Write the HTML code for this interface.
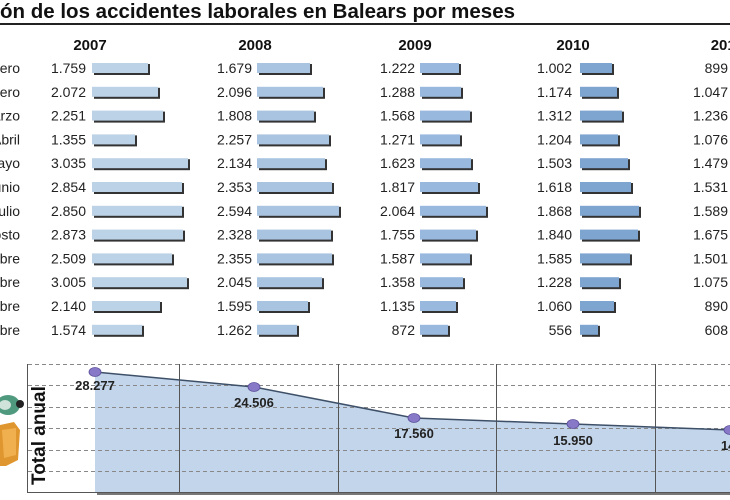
<!DOCTYPE html>
<html><head><meta charset="utf-8"><style>
html,body{margin:0;padding:0;background:#fff;width:730px;height:500px;overflow:hidden}
svg{display:block}
.t{font-family:"Liberation Sans",sans-serif;font-weight:bold;font-size:20.5px;fill:#111}
.y{font-family:"Liberation Sans",sans-serif;font-weight:bold;font-size:15px;fill:#111;text-anchor:middle}
.n,.m{font-family:"Liberation Sans",sans-serif;font-size:14px;fill:#222;text-anchor:end}
.v{font-family:"Liberation Sans",sans-serif;font-weight:bold;font-size:13px;fill:#222;text-anchor:middle}
.s{fill:#333}
.a{fill:#bcd2e6}.b{fill:#a9c4e0}.c{fill:#98b8de}.d{fill:#7ea4d0}
</style></head><body>
<svg width="730" height="500" viewBox="0 0 730 500">
<text class="t" x="515" y="18" text-anchor="end">Evolución de los accidentes laborales en Balears por meses</text>
<rect x="0" y="23" width="730" height="2" fill="#222"/>
<text class="y" x="90" y="50">2007</text><text class="y" x="255" y="50">2008</text><text class="y" x="415" y="50">2009</text><text class="y" x="573" y="50">2010</text><text class="y" x="727" y="50">2011</text>

<g transform="translate(0,68)"><text class="m" x="20" y="5">Enero</text><text class="n" x="86" y="5">1.759</text><rect class="s" x="94" y="-4" width="56" height="11"/><rect class="a" x="92" y="-5" width="56" height="10"/><text class="n" x="252" y="5">1.679</text><rect class="s" x="259" y="-4" width="53" height="11"/><rect class="b" x="257" y="-5" width="53" height="10"/><text class="n" x="415" y="5">1.222</text><rect class="s" x="422" y="-4" width="39" height="11"/><rect class="c" x="420" y="-5" width="39" height="10"/><text class="n" x="572" y="5">1.002</text><rect class="s" x="582" y="-4" width="32" height="11"/><rect class="d" x="580" y="-5" width="32" height="10"/><text class="n" x="728" y="5">899</text></g>
<g transform="translate(0,91.8)"><text class="m" x="20" y="5">Febrero</text><text class="n" x="86" y="5">2.072</text><rect class="s" x="94" y="-4" width="66" height="11"/><rect class="a" x="92" y="-5" width="66" height="10"/><text class="n" x="252" y="5">2.096</text><rect class="s" x="259" y="-4" width="66" height="11"/><rect class="b" x="257" y="-5" width="66" height="10"/><text class="n" x="415" y="5">1.288</text><rect class="s" x="422" y="-4" width="41" height="11"/><rect class="c" x="420" y="-5" width="41" height="10"/><text class="n" x="572" y="5">1.174</text><rect class="s" x="582" y="-4" width="37" height="11"/><rect class="d" x="580" y="-5" width="37" height="10"/><text class="n" x="728" y="5">1.047</text></g>
<g transform="translate(0,115.6)"><text class="m" x="20" y="5">Marzo</text><text class="n" x="86" y="5">2.251</text><rect class="s" x="94" y="-4" width="71" height="11"/><rect class="a" x="92" y="-5" width="71" height="10"/><text class="n" x="252" y="5">1.808</text><rect class="s" x="259" y="-4" width="57" height="11"/><rect class="b" x="257" y="-5" width="57" height="10"/><text class="n" x="415" y="5">1.568</text><rect class="s" x="422" y="-4" width="50" height="11"/><rect class="c" x="420" y="-5" width="50" height="10"/><text class="n" x="572" y="5">1.312</text><rect class="s" x="582" y="-4" width="42" height="11"/><rect class="d" x="580" y="-5" width="42" height="10"/><text class="n" x="728" y="5">1.236</text></g>
<g transform="translate(0,139.4)"><text class="m" x="20" y="5">Abril</text><text class="n" x="86" y="5">1.355</text><rect class="s" x="94" y="-4" width="43" height="11"/><rect class="a" x="92" y="-5" width="43" height="10"/><text class="n" x="252" y="5">2.257</text><rect class="s" x="259" y="-4" width="72" height="11"/><rect class="b" x="257" y="-5" width="72" height="10"/><text class="n" x="415" y="5">1.271</text><rect class="s" x="422" y="-4" width="40" height="11"/><rect class="c" x="420" y="-5" width="40" height="10"/><text class="n" x="572" y="5">1.204</text><rect class="s" x="582" y="-4" width="38" height="11"/><rect class="d" x="580" y="-5" width="38" height="10"/><text class="n" x="728" y="5">1.076</text></g>
<g transform="translate(0,163.2)"><text class="m" x="20" y="5">Mayo</text><text class="n" x="86" y="5">3.035</text><rect class="s" x="94" y="-4" width="96" height="11"/><rect class="a" x="92" y="-5" width="96" height="10"/><text class="n" x="252" y="5">2.134</text><rect class="s" x="259" y="-4" width="68" height="11"/><rect class="b" x="257" y="-5" width="68" height="10"/><text class="n" x="415" y="5">1.623</text><rect class="s" x="422" y="-4" width="51" height="11"/><rect class="c" x="420" y="-5" width="51" height="10"/><text class="n" x="572" y="5">1.503</text><rect class="s" x="582" y="-4" width="48" height="11"/><rect class="d" x="580" y="-5" width="48" height="10"/><text class="n" x="728" y="5">1.479</text></g>
<g transform="translate(0,187)"><text class="m" x="20" y="5">Junio</text><text class="n" x="86" y="5">2.854</text><rect class="s" x="94" y="-4" width="90" height="11"/><rect class="a" x="92" y="-5" width="90" height="10"/><text class="n" x="252" y="5">2.353</text><rect class="s" x="259" y="-4" width="75" height="11"/><rect class="b" x="257" y="-5" width="75" height="10"/><text class="n" x="415" y="5">1.817</text><rect class="s" x="422" y="-4" width="58" height="11"/><rect class="c" x="420" y="-5" width="58" height="10"/><text class="n" x="572" y="5">1.618</text><rect class="s" x="582" y="-4" width="51" height="11"/><rect class="d" x="580" y="-5" width="51" height="10"/><text class="n" x="728" y="5">1.531</text></g>
<g transform="translate(0,210.8)"><text class="m" x="20" y="5">Julio</text><text class="n" x="86" y="5">2.850</text><rect class="s" x="94" y="-4" width="90" height="11"/><rect class="a" x="92" y="-5" width="90" height="10"/><text class="n" x="252" y="5">2.594</text><rect class="s" x="259" y="-4" width="82" height="11"/><rect class="b" x="257" y="-5" width="82" height="10"/><text class="n" x="415" y="5">2.064</text><rect class="s" x="422" y="-4" width="66" height="11"/><rect class="c" x="420" y="-5" width="66" height="10"/><text class="n" x="572" y="5">1.868</text><rect class="s" x="582" y="-4" width="59" height="11"/><rect class="d" x="580" y="-5" width="59" height="10"/><text class="n" x="728" y="5">1.589</text></g>
<g transform="translate(0,234.6)"><text class="m" x="20" y="5">Agosto</text><text class="n" x="86" y="5">2.873</text><rect class="s" x="94" y="-4" width="91" height="11"/><rect class="a" x="92" y="-5" width="91" height="10"/><text class="n" x="252" y="5">2.328</text><rect class="s" x="259" y="-4" width="74" height="11"/><rect class="b" x="257" y="-5" width="74" height="10"/><text class="n" x="415" y="5">1.755</text><rect class="s" x="422" y="-4" width="56" height="11"/><rect class="c" x="420" y="-5" width="56" height="10"/><text class="n" x="572" y="5">1.840</text><rect class="s" x="582" y="-4" width="58" height="11"/><rect class="d" x="580" y="-5" width="58" height="10"/><text class="n" x="728" y="5">1.675</text></g>
<g transform="translate(0,258.4)"><text class="m" x="20" y="5">Septiembre</text><text class="n" x="86" y="5">2.509</text><rect class="s" x="94" y="-4" width="80" height="11"/><rect class="a" x="92" y="-5" width="80" height="10"/><text class="n" x="252" y="5">2.355</text><rect class="s" x="259" y="-4" width="75" height="11"/><rect class="b" x="257" y="-5" width="75" height="10"/><text class="n" x="415" y="5">1.587</text><rect class="s" x="422" y="-4" width="50" height="11"/><rect class="c" x="420" y="-5" width="50" height="10"/><text class="n" x="572" y="5">1.585</text><rect class="s" x="582" y="-4" width="50" height="11"/><rect class="d" x="580" y="-5" width="50" height="10"/><text class="n" x="728" y="5">1.501</text></g>
<g transform="translate(0,282.2)"><text class="m" x="20" y="5">Octubre</text><text class="n" x="86" y="5">3.005</text><rect class="s" x="94" y="-4" width="95" height="11"/><rect class="a" x="92" y="-5" width="95" height="10"/><text class="n" x="252" y="5">2.045</text><rect class="s" x="259" y="-4" width="65" height="11"/><rect class="b" x="257" y="-5" width="65" height="10"/><text class="n" x="415" y="5">1.358</text><rect class="s" x="422" y="-4" width="43" height="11"/><rect class="c" x="420" y="-5" width="43" height="10"/><text class="n" x="572" y="5">1.228</text><rect class="s" x="582" y="-4" width="39" height="11"/><rect class="d" x="580" y="-5" width="39" height="10"/><text class="n" x="728" y="5">1.075</text></g>
<g transform="translate(0,306)"><text class="m" x="20" y="5">Noviembre</text><text class="n" x="86" y="5">2.140</text><rect class="s" x="94" y="-4" width="68" height="11"/><rect class="a" x="92" y="-5" width="68" height="10"/><text class="n" x="252" y="5">1.595</text><rect class="s" x="259" y="-4" width="51" height="11"/><rect class="b" x="257" y="-5" width="51" height="10"/><text class="n" x="415" y="5">1.135</text><rect class="s" x="422" y="-4" width="36" height="11"/><rect class="c" x="420" y="-5" width="36" height="10"/><text class="n" x="572" y="5">1.060</text><rect class="s" x="582" y="-4" width="34" height="11"/><rect class="d" x="580" y="-5" width="34" height="10"/><text class="n" x="728" y="5">890</text></g>
<g transform="translate(0,329.8)"><text class="m" x="20" y="5">Diciembre</text><text class="n" x="86" y="5">1.574</text><rect class="s" x="94" y="-4" width="50" height="11"/><rect class="a" x="92" y="-5" width="50" height="10"/><text class="n" x="252" y="5">1.262</text><rect class="s" x="259" y="-4" width="40" height="11"/><rect class="b" x="257" y="-5" width="40" height="10"/><text class="n" x="415" y="5">872</text><rect class="s" x="422" y="-4" width="28" height="11"/><rect class="c" x="420" y="-5" width="28" height="10"/><text class="n" x="572" y="5">556</text><rect class="s" x="582" y="-4" width="18" height="11"/><rect class="d" x="580" y="-5" width="18" height="10"/><text class="n" x="728" y="5">608</text></g>

<rect x="97" y="491" width="633" height="4" fill="#777"/>
<polygon points="95,372 254,387 414,418 573,424 730,430 730,492 95,492" fill="#c3d5ea"/>
<g stroke="#888" stroke-dasharray="4,3" stroke-width="1">
<line x1="28" y1="364.5" x2="730" y2="364.5"/><line x1="28" y1="385.5" x2="730" y2="385.5"/><line x1="28" y1="407.5" x2="730" y2="407.5"/><line x1="28" y1="428.5" x2="730" y2="428.5"/><line x1="28" y1="450.5" x2="730" y2="450.5"/><line x1="28" y1="471.5" x2="730" y2="471.5"/>
</g>
<g stroke="#555" stroke-width="1">
<line x1="27.5" y1="364" x2="27.5" y2="492"/><line x1="179.5" y1="364" x2="179.5" y2="492"/><line x1="338.5" y1="364" x2="338.5" y2="492"/><line x1="496.5" y1="364" x2="496.5" y2="492"/><line x1="655.5" y1="364" x2="655.5" y2="492"/>
<line x1="27" y1="492.5" x2="730" y2="492.5"/>
</g>
<polyline points="95,372 254,387 414,418 573,424 730,430" fill="none" stroke="#3d5068" stroke-width="1.5"/>
<g fill="#8878c8" stroke="#5a4f9a" stroke-width=".8">
<ellipse cx="95" cy="372" rx="6" ry="4.5"/><ellipse cx="254" cy="387" rx="6" ry="4.5"/><ellipse cx="414" cy="418" rx="6" ry="4.5"/><ellipse cx="573" cy="424" rx="6" ry="4.5"/><ellipse cx="730" cy="430" rx="6" ry="4.5"/>
</g>
<text class="v" x="95" y="390">28.277</text><text class="v" x="254" y="407">24.506</text><text class="v" x="414" y="438">17.560</text><text class="v" x="573" y="445">15.950</text><text class="v" x="730" y="450">14.</text>
<text transform="translate(45,485) rotate(-90)" font-family="Liberation Sans,sans-serif" font-weight="bold" font-size="19" fill="#111">Total anual</text>
<ellipse cx="8" cy="405" rx="12" ry="10" fill="#4f9a7e"/><circle cx="20" cy="404" r="4" fill="#222"/><ellipse cx="5" cy="405" rx="6" ry="5" fill="#cfe3da"/>
<path d="M0,425 L14,422 L20,430 L18,460 L6,466 L0,466 Z" fill="#e0962e"/><path d="M2,430 L16,428 L16,455 L4,458 Z" fill="#f0b050"/>
</svg>
</body></html>
